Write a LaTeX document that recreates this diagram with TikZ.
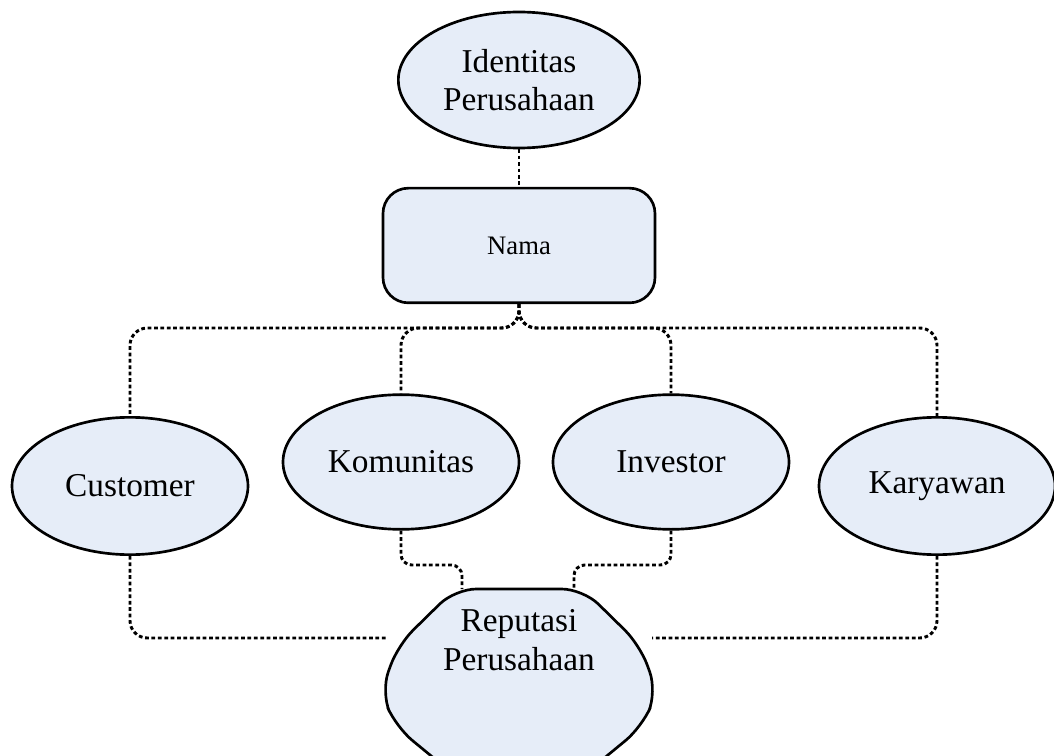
\documentclass[tikz,border=0pt]{standalone}
\usepackage{fontspec}
\setmainfont{Liberation Serif}
\usetikzlibrary{shapes.geometric}
\definecolor{boxfill}{RGB}{230,237,248}
\tikzset{
  bubble/.style={ellipse, draw=black, line width=2pt, fill=boxfill, inner sep=0pt,
     minimum width=177pt, minimum height=103pt, align=center,
     font=\fontsize{25}{29}\selectfont},
  namebox/.style={rectangle, rounded corners=19pt, draw=black, line width=2pt, fill=boxfill,
     minimum width=204pt, minimum height=86pt, font=\fontsize{20}{24}\selectfont},
  conn/.style={line width=2.2pt, dash pattern=on 2.8pt off 2pt, rounded corners=13pt},
  repshape/.style={draw=black, line width=2pt, fill=boxfill, rounded corners=16pt},
}
\begin{document}
\begin{tikzpicture}[x=0.75pt,y=-0.75pt]
\useasboundingbox (0,0) rectangle (1054,756);
\node[bubble, minimum width=181pt, minimum height=102pt] (ident) at (519,80) {Identitas\\Perusahaan};
\node[namebox] (nama) at (519,245.5) {Nama};
\node[bubble] (cust) at (130,486) {Customer};
\node[bubble, minimum height=101pt] (komu) at (401,462) {Komunitas};
\node[bubble, minimum height=101pt] (inve) at (671,462) {Investor};
\node[bubble] (kary) at (937,486) {Karyawan};
% Reputasi shape
\draw[repshape] (455,589) -- (583,589) -- (640,645) -- (657,692) -- (642,727) -- (580,778)
   -- (458,778) -- (396,727) -- (381,692) -- (398,645) -- cycle;
\node[font=\fontsize{25}{29}\selectfont, align=center] (rep) at (519,640) {Reputasi\\Perusahaan};
\coordinate (repL) at (386,638);
\coordinate (repR) at (652,638);
\coordinate (repTL) at (462,589);
\coordinate (repTR) at (574,589);
\coordinate (junc) at (519,328);
\coordinate (k1) at (462,565);
\coordinate (i1) at (574,565);
% connectors
\draw[conn] (ident.south) -- (nama.north);
\draw[conn] (nama.south) -- (junc) -| (cust.north);
\draw[conn] (nama.south) -- (junc) -| (komu.north);
\draw[conn] (nama.south) -- (junc) -| (inve.north);
\draw[conn] (nama.south) -- (junc) -| (kary.north);
\draw[conn] (cust.south) |- (repL);
\draw[conn] (kary.south) |- (repR);
\draw[conn, rounded corners=8pt] (komu.south) |- (k1) -- (repTL);
\draw[conn, rounded corners=8pt] (inve.south) |- (i1) -- (repTR);
\end{tikzpicture}
\end{document}
